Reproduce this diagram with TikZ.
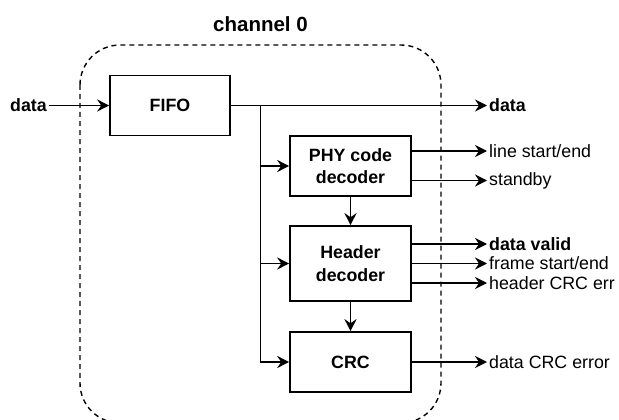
\documentclass[tikz,border=0pt]{standalone}
\usepackage{fontspec}
\setmainfont{Liberation Sans}
\usetikzlibrary{arrows.meta}
\begin{document}
\begin{tikzpicture}[x=1pt,y=-1pt,
  font=\fontsize{17.8}{22}\selectfont,
  blk/.style={draw, line width=1.6pt, minimum width=121pt, align=center, font=\fontsize{17.8}{22.5}\selectfont\bfseries, inner sep=0pt},
  lbl/.style={anchor=west, inner sep=2pt},
  conn/.style={line width=1.6pt},
  arr/.style={conn, -{Stealth[length=12pt,width=12pt,inset=4pt]}},
  border/.style={draw, dashed, line width=1.4pt, dash pattern=on 5pt off 4pt, rounded corners=40pt}
]
\useasboundingbox (0,0) rectangle (619,420);
% container
\draw[border] (80,45) rectangle (441,423);
\node[font=\fontsize{20.5}{24}\selectfont\bfseries] (title) at (260.5,24) {channel 0};
% blocks
\node[blk, minimum width=120pt, minimum height=60pt] (fifo) at (170,105.5) {FIFO};
\node[blk, minimum height=60pt] (phy) at (350.5,166) {PHY code\\decoder};
\node[blk, minimum height=75pt] (hdr) at (350.5,263.5) {Header\\decoder};
\node[blk, minimum height=60pt] (crc) at (350.5,362) {CRC};
% input
\node[anchor=east, inner sep=1.5pt, font=\fontsize{17.8}{22}\selectfont\bfseries] (din) at (48.5,105.5) {data};
\draw[arr] (din.east) -- (fifo.west);
% outputs labels
\node[lbl, font=\fontsize{17.8}{22}\selectfont\bfseries] (dout) at (487,105.5) {data};
\node[lbl] (lse) at (487,151) {line start/end};
\node[lbl] (stb) at (487,180.5) {standby};
\node[lbl, font=\fontsize{17.8}{22}\selectfont\bfseries] (dv) at (487,244) {data valid};
\node[lbl] (fse) at (487,263.5) {frame start/end};
\node[lbl] (hce) at (487,283) {header CRC err};
\node[lbl] (dce) at (487,362) {data CRC error};
% fifo out
\coordinate (br) at (260.5,105.5);
\draw[arr] (fifo.east) -- (dout.west);
\draw[arr] (br) |- (phy.west);
\draw[arr] (br) |- (hdr.west);
\draw[arr] (br) |- (crc.west);
% vertical chain
\draw[arr] (phy.south) -- (hdr.north);
\draw[arr] (hdr.south) -- (crc.north);
% block outputs
\draw[arr] (phy.east |- lse.west) -- (lse.west);
\draw[arr] (phy.east |- stb.west) -- (stb.west);
\draw[arr] (hdr.east |- dv.west) -- (dv.west);
\draw[arr] (hdr.east |- fse.west) -- (fse.west);
\draw[arr] (hdr.east |- hce.west) -- (hce.west);
\draw[arr] (crc.east) -- (dce.west);
\end{tikzpicture}
\end{document}
